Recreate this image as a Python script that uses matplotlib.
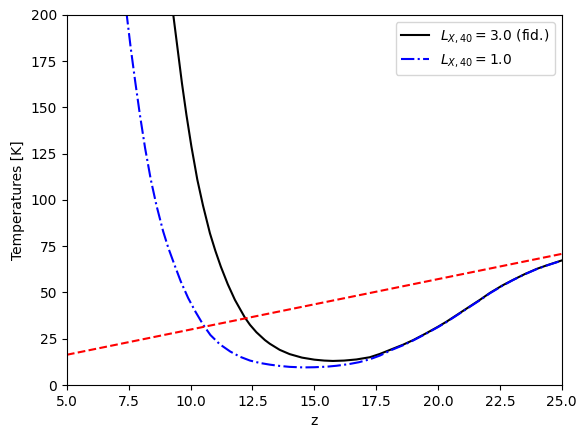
import matplotlib
matplotlib.use("Agg")
import matplotlib.pyplot as plt

# Black solid: L_X,40 = 3.0 (fid.)
z_fid = [9.28, 9.47, 9.65, 9.83, 10.03, 10.27, 10.5, 10.78, 11.0, 11.22, 11.5,
         11.79, 12.0, 12.19, 12.4, 12.66, 13.0, 13.2, 13.6, 14.0, 14.5, 15.0,
         15.4, 15.75, 16.2, 16.7, 17.24, 17.65, 18.1, 18.59, 19.0, 19.5, 20.0,
         20.34, 20.8, 21.3, 21.69, 22.1, 22.6, 23.03, 23.5, 24.0, 24.38, 24.7, 25.0]
T_fid = [202, 182, 163, 146, 129, 111, 97, 82, 72.5, 64, 54.5,
         46, 41, 36.5, 32.5, 28.5, 24.3, 22.3, 19.0, 16.7, 14.8, 13.7,
         13.2, 13.0, 13.2, 13.8, 15.0, 16.8, 19.2, 21.8, 24.3, 27.8, 31.5,
         34.2, 38.2, 42.6, 46.0, 49.8, 53.8, 56.8, 59.9, 62.8, 64.6, 66.0, 67.3]

# Blue dash-dot: L_X,40 = 1.0
z_low = [7.40, 7.58, 7.76, 7.95, 8.16, 8.39, 8.62, 8.89, 9.1, 9.36, 9.6, 9.9,
         10.2, 10.51, 10.8, 11.18, 11.6, 11.99, 12.4, 12.8, 13.2, 13.6, 14.0,
         14.55, 15.0, 15.5, 15.9, 16.4, 16.8, 17.24, 17.65, 18.1, 18.59, 19.0,
         19.5, 20.0, 20.34, 20.8, 21.3, 21.69, 22.1, 22.6, 23.03, 23.5, 24.0,
         24.38, 24.7, 25.0]
T_low = [202, 182, 164, 146, 128, 111, 97, 83, 74, 64.5, 56, 47,
         39.5, 32.5, 27.0, 22.0, 18.1, 15.3, 13.2, 11.9, 11.0, 10.3, 9.8,
         9.5, 9.6, 9.9, 10.4, 11.3, 12.3, 13.9, 15.9, 18.8, 21.5, 24.1,
         27.6, 31.3, 34.0, 38.0, 42.4, 45.8, 49.6, 53.6, 56.7, 59.8, 62.7,
         64.5, 65.9, 67.2]

# Red dashed: CMB temperature
z_cmb = [5.0, 25.0]
T_cmb = [16.35, 70.85]

fig = plt.figure(figsize=(5.87, 4.38), dpi=100)
ax = fig.add_axes([0.114, 0.121, 0.843, 0.845])

ax.plot(z_fid, T_fid, color="black", linestyle="-", label=r"$L_{X,40} = 3.0$ (fid.)")
ax.plot(z_low, T_low, color="blue", linestyle="-.", label=r"$L_{X,40} = 1.0$")
ax.plot(z_cmb, T_cmb, color="red", linestyle="--")

ax.set_xlim(5, 25)
ax.set_ylim(0, 200)
ax.set_xlabel("z")
ax.set_ylabel("Temperatures [K]")
ax.legend(loc="upper right")

fig.savefig("out.png", dpi=100)
